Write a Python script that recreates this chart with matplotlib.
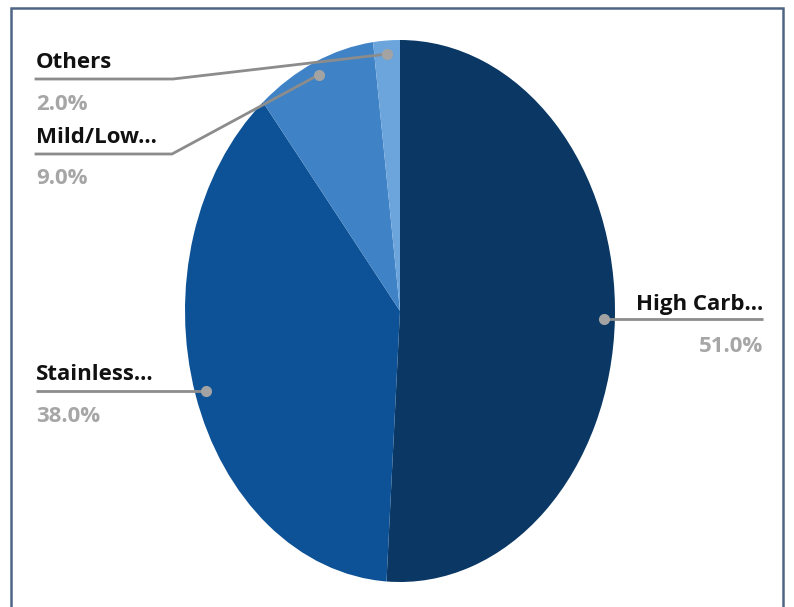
import numpy as np
import matplotlib.pyplot as plt
from matplotlib.patches import Rectangle

labels = ['High Carb...', 'Stainless...', 'Mild/Low...', 'Others']
shares = [51.0, 38.0, 9.0, 2.0]
colors = ['#0a3763', '#0d5296', '#3f82c5', '#6ba5dc']

W, H = 794, 607
cx, cy, rx, ry = 400, 311, 215, 271


def px(x, y):
    # pixel (from top-left) -> data coords of the stretched pie
    return (x - cx) / rx, (cy - y) / ry


fig = plt.figure(figsize=(W / 100, H / 100), dpi=100)
ax = fig.add_axes([0, 0, 1, 1])
ax.pie(shares, colors=colors, startangle=90, counterclock=False,
       radius=1, wedgeprops=dict(linewidth=0))
ax.set_aspect('auto')
ax.set_xlim(px(0, 0)[0], px(W, 0)[0])
ax.set_ylim(px(0, H)[1], px(0, 0)[1])
ax.axis('off')

# label layout: (side, line end x, line y, elbow x, text baseline, pct baseline)
layout = [
    ('right', 763, 320, None, 310, 352),
    ('left', 36, 392, None, 380, 422),
    ('left', 36, 154, 172, 143, 184),
    ('left', 36, 79, 173, 68, 110),
]

line_col = '#8c8c8c'
font = ['Open Sans', 'DejaVu Sans']
cum = 0
for lab, val, (side, xend, ly, elbow, tb, pb) in zip(labels, shares, layout):
    mid = np.deg2rad(90 - (cum + val / 2) * 3.6)
    cum += val
    dx, dy = 0.95 * np.cos(mid), 0.95 * np.sin(mid)
    if elbow is None:
        ax.plot([dx, px(xend, 0)[0]], [dy, dy], color=line_col, lw=2,
                solid_capstyle='butt')
    else:
        e1 = px(elbow, ly)
        e2 = px(xend, ly)
        ax.plot([dx, e1[0], e2[0]], [dy, e1[1], e2[1]], color=line_col, lw=2)
    ax.plot(dx, dy, 'o', color='#a3a3a3', ms=7)
    ha = 'right' if side == 'right' else 'left'
    tx = px(xend, 0)[0]
    ax.text(tx, px(0, tb)[1], lab, ha=ha, va='baseline', fontsize=16,
            fontweight='bold', color='#111111', family=font)
    ax.text(tx, px(0, pb)[1], f'{val:.1f}%', ha=ha, va='baseline', fontsize=16,
            fontweight='bold', color='#a6a6a6', family=font)

fig.patches.append(Rectangle((11 / W, -0.05), 772 / W, 1.05 - 8 / H,
                             transform=fig.transFigure, fill=False,
                             edgecolor='#4f6585', lw=1.8))

fig.savefig('out.png', dpi=100)
